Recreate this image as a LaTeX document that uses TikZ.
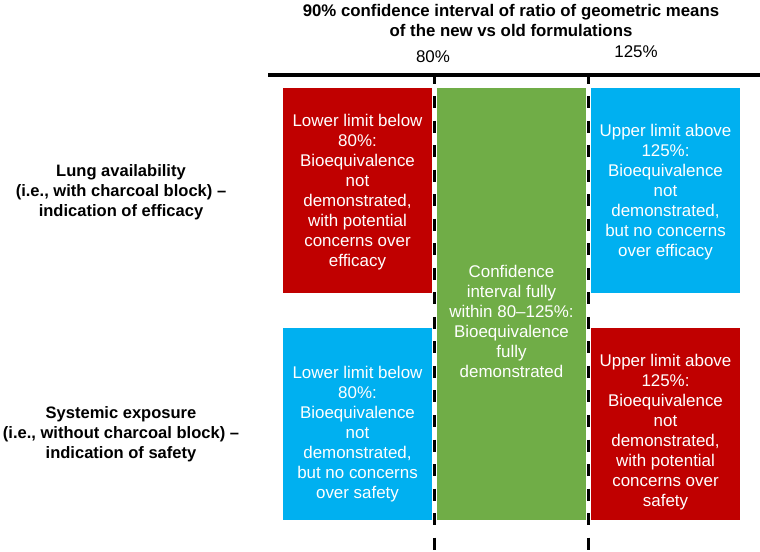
\documentclass[tikz,border=0pt]{standalone}
\usepackage{fontspec}
\setmainfont{Liberation Sans}
\definecolor{bred}{HTML}{C00000}
\definecolor{bgreen}{HTML}{70AD47}
\definecolor{bblue}{HTML}{00B0F0}
\begin{document}
\begin{tikzpicture}[x=0.75pt,y=-0.75pt,
  box/.style={draw=none,inner sep=0pt,outer sep=0pt,anchor=north west},
  boxtext/.style={text=white,align=center,font=\fontsize{12.7}{15}\selectfont,inner sep=0pt},
  rowlabel/.style={align=center,font=\bfseries\fontsize{12.4}{15}\selectfont,inner sep=0pt},
  titlestyle/.style={align=center,font=\bfseries\fontsize{12.6}{15}\selectfont,inner sep=0pt},
  pct/.style={font=\fontsize{12.7}{15}\selectfont,inner sep=0pt},
  axis/.style={line width=2.4pt},
  limit/.style={line width=2.6pt,dash pattern=on 9pt off 9.4pt,dash phase=2.6pt}]
\useasboundingbox (0,0) rectangle (760,551);
% boxes
\node[box,fill=bred,minimum width=149pt*0.75,minimum height=205pt*0.75] (rtl) at (283,88) {};
\node[box,fill=bgreen,minimum width=149pt*0.75,minimum height=432pt*0.75] (g) at (437,88) {};
\node[box,fill=bblue,minimum width=149pt*0.75,minimum height=205pt*0.75] (btr) at (591,88) {};
\node[box,fill=bblue,minimum width=149pt*0.75,minimum height=192pt*0.75] (bbl) at (283,328) {};
\node[box,fill=bred,minimum width=149pt*0.75,minimum height=192pt*0.75] (rbr) at (591,328) {};
% box texts
\node[boxtext] (t1) at (357.5,192) {Lower limit below\\80\%:\\Bioequivalence\\not\\demonstrated,\\with potential\\concerns over\\efficacy};
\node[boxtext] (t2) at (511.5,321) {Confidence\\interval fully\\within 80–125\%:\\Bioequivalence\\fully\\demonstrated};
\node[boxtext] (t3) at (665.5,192) {Upper limit above\\125\%:\\Bioequivalence\\not\\demonstrated,\\but no concerns\\over efficacy};
\node[boxtext] (t4) at (357.5,434) {Lower limit below\\80\%:\\Bioequivalence\\not\\demonstrated,\\but no concerns\\over safety};
\node[boxtext] (t5) at (665.5,432) {Upper limit above\\125\%:\\Bioequivalence\\not\\demonstrated,\\with potential\\concerns over\\safety};
% axis
\coordinate (axL) at (268,75);
\coordinate (axR) at (760,75);
\coordinate (l80t) at (434.5,75);
\coordinate (l80b) at (434.5,551);
\coordinate (l125t) at (588.5,75);
\coordinate (l125b) at (588.5,551);
\draw[axis] (axL) -- (axR);
\draw[limit] (l80t) -- (l80b);
\draw[limit] (l125t) -- (l125b);
% labels
\node[titlestyle] (title) at (511,20) {90\% confidence interval of ratio of geometric means\\of the new vs old formulations};
\node[pct] (p80) at (433,57) {80\%};
\node[pct] (p125) at (636,52) {125\%};
\node[rowlabel] (lung) at (121,192) {Lung availability\\(i.e., with charcoal block) –\\indication of efficacy};
\node[rowlabel] (sys) at (121,434) {Systemic exposure\\(i.e., without charcoal block) –\\indication of safety};
\end{tikzpicture}
\end{document}
